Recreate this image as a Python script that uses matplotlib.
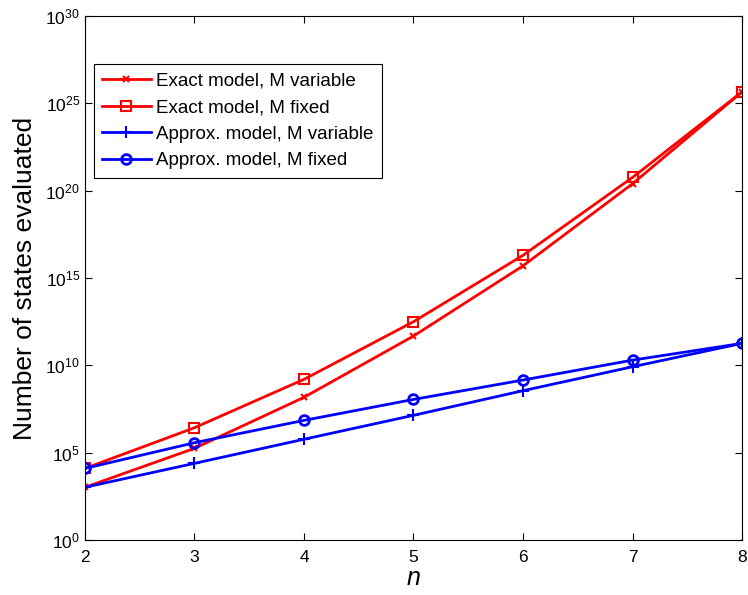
import matplotlib
matplotlib.use("Agg")
import matplotlib.pyplot as plt
import numpy as np

plt.rcParams["font.family"] = ["Liberation Sans", "DejaVu Sans"]
plt.rcParams["mathtext.fontset"] = "custom"
plt.rcParams["mathtext.rm"] = "Liberation Sans"
plt.rcParams["mathtext.it"] = "Liberation Sans:italic"

n_values = [2, 3, 4, 5, 6, 7, 8]
# log10 of number of states
exact_variable = [3.02, 5.25, 8.17, 11.68, 15.7, 20.4, 25.66]
exact_fixed = [4.1, 6.43, 9.2, 12.5, 16.3, 20.76, 25.66]
approx_variable = [3.02, 4.39, 5.77, 7.14, 8.55, 9.92, 11.26]
approx_fixed = [4.1, 5.57, 6.85, 8.05, 9.16, 10.3, 11.26]

fig = plt.figure(figsize=(7.48, 5.95), dpi=100)
ax = fig.add_axes([0.1136, 0.0924, 0.8784, 0.8806])

ax.semilogy(n_values, 10.0 ** np.array(exact_variable), color="red", lw=2,
            marker="x", ms=5, mew=1.5, label="Exact model, M variable")
ax.semilogy(n_values, 10.0 ** np.array(exact_fixed), color="red", lw=2,
            marker="s", ms=7, mew=1.5, mfc="none", label="Exact model, M fixed")
ax.semilogy(n_values, 10.0 ** np.array(approx_variable), color="blue", lw=2,
            marker="+", ms=8, mew=1.5, label="Approx. model, M variable")
ax.semilogy(n_values, 10.0 ** np.array(approx_fixed), color="blue", lw=2,
            marker="o", ms=7, mew=2, mfc="none", label="Approx. model, M fixed")

ax.set_xlim(2, 8)
ax.set_ylim(1e0, 1e30)
ax.set_xticks(n_values)
ax.set_yticks([10.0 ** k for k in range(0, 31, 5)])
ax.set_yticklabels([r"$\mathregular{10^{%d}}$" % k for k in range(0, 31, 5)])
ax.yaxis.set_minor_locator(matplotlib.ticker.NullLocator())
ax.tick_params(direction="in", top=True, right=True, labelsize=12.5, length=5)
ax.tick_params(axis="x", pad=7)
for s in ax.spines.values():
    s.set_linewidth(0.8)

ax.set_xlabel("n", fontsize=18, style="italic", labelpad=1)
ax.set_ylabel("Number of states evaluated", fontsize=19, labelpad=6)

leg = ax.legend(loc="upper left", bbox_to_anchor=(0.013, 0.908), fontsize=13.5,
                fancybox=False, edgecolor="black", framealpha=1, handlelength=2.6,
                borderpad=0.45, labelspacing=0.5, handletextpad=0.3,
                borderaxespad=0)
leg.get_frame().set_linewidth(0.8)

fig.savefig("out.png", dpi=100)
